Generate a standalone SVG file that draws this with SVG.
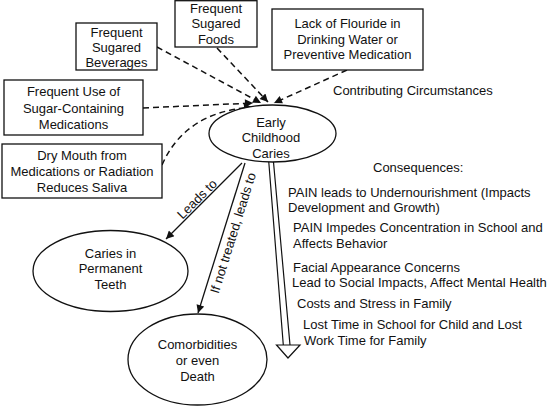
<svg xmlns="http://www.w3.org/2000/svg" width="552" height="406" viewBox="0 0 552 406">
<style>
text{font-family:"Liberation Sans",Arial,sans-serif;font-size:13px;fill:#111}
.c{text-anchor:middle}
.box{fill:#fff;stroke:#111;stroke-width:1.3}
.ell{fill:#fff;stroke:#111;stroke-width:1.3}
.dash{fill:none;stroke:#111;stroke-width:1.5;stroke-dasharray:6 4;marker-end:url(#ah)}
.sol{fill:none;stroke:#111;stroke-width:1.3;marker-end:url(#ah)}
.shaft{fill:none;stroke:#111;stroke-width:1.2}
</style>
<defs>
<marker id="ah" viewBox="0 0 10 10" refX="10" refY="5" markerWidth="10" markerHeight="8" markerUnits="userSpaceOnUse" orient="auto">
<path d="M0,0 L10,5 L0,10 z" fill="#111"/>
</marker>
</defs>
<rect width="552" height="406" fill="#fff"/>
<g id="connectors">
<path class="dash" d="M143,108 L253,103"/>
<path class="dash" d="M162,165 Q185,112 252,107"/>
<path class="dash" d="M157,47 L261,103"/>
<path class="dash" d="M217,48 L268,102"/>
<path class="dash" d="M347,70 L274,103"/>
<path class="sol" d="M242,163 L166,239"/>
<path class="sol" d="M245,163 L198,313"/>
<path class="shaft" d="M268.7,161 L283.3,345 M273.4,161 L290,345"/>
<path d="M276.5,345 L300,345 L288,358 z" fill="#fff" stroke="#111" stroke-width="1.2"/>
<text class="c" x="197" y="203.5" transform="rotate(-45 197 199)">Leads to</text>
<text class="c" x="233" y="237.5" transform="rotate(-72.6 233 233)">If not treated, leads to</text>
<text x="333" y="94.5">Contributing Circumstances</text>
</g>
<g id="beverages">
<rect class="box" x="76" y="23" width="81" height="47"/>
<text class="c" x="116.5" y="36.5">Frequent</text>
<text class="c" x="116.5" y="51.5">Sugared</text>
<text class="c" x="116.5" y="67">Beverages</text>
</g>
<g id="foods">
<rect class="box" x="175" y="0.7" width="82" height="46.3"/>
<text class="c" x="216" y="12.5">Frequent</text>
<text class="c" x="216" y="28">Sugared</text>
<text class="c" x="216" y="43.5">Foods</text>
</g>
<g id="fluoride">
<rect class="box" x="272" y="9" width="151" height="61"/>
<text class="c" x="347.5" y="27.5">Lack of Flouride in</text>
<text class="c" x="347.5" y="43.5">Drinking Water or</text>
<text class="c" x="347.5" y="58.5">Preventive Medication</text>
</g>
<g id="medications">
<rect class="box" x="4" y="80" width="139" height="55"/>
<text class="c" x="73.5" y="96">Frequent Use of</text>
<text class="c" x="73.5" y="112.5">Sugar-Containing</text>
<text class="c" x="73.5" y="128.5">Medications</text>
</g>
<g id="drymouth">
<rect class="box" x="2" y="144" width="160" height="54"/>
<text class="c" x="82" y="159.5">Dry Mouth from</text>
<text class="c" x="82" y="175.5">Medications or Radiation</text>
<text class="c" x="82" y="191.5">Reduces Saliva</text>
</g>
<g id="ecc">
<ellipse class="ell" cx="272.5" cy="133.5" rx="63.5" ry="28.5"/>
<text class="c" x="271" y="126.5">Early</text>
<text class="c" x="271" y="142">Childhood</text>
<text class="c" x="271" y="157.5">Caries</text>
</g>
<g id="permanent">
<ellipse class="ell" cx="110.5" cy="271" rx="77.5" ry="40.5"/>
<text class="c" x="110.5" y="257.5">Caries in</text>
<text class="c" x="110.5" y="273">Permanent</text>
<text class="c" x="110.5" y="289">Teeth</text>
</g>
<g id="comorbidities">
<ellipse class="ell" cx="197.5" cy="359.5" rx="69.5" ry="45.5"/>
<text class="c" x="197.5" y="348.5">Comorbidities</text>
<text class="c" x="197.5" y="364.5">or even</text>
<text class="c" x="197.5" y="380.5">Death</text>
</g>
<g id="consequences">
<text x="373" y="171.5">Consequences:</text>
<text x="288" y="196.5">PAIN leads to Undernourishment (Impacts</text>
<text x="288" y="211.5">Development and Growth)</text>
<text x="293" y="231.5">PAIN Impedes Concentration in School and</text>
<text x="293" y="247.5">Affects Behavior</text>
<text x="293" y="271.5">Facial Appearance Concerns</text>
<text x="292" y="286.5">Lead to Social Impacts, Affect Mental Health</text>
<text x="297" y="307.5">Costs and Stress in Family</text>
<text x="303" y="328.5">Lost Time in School for Child and Lost</text>
<text x="304" y="344.5">Work Time for Family</text>
</g>
</svg>
